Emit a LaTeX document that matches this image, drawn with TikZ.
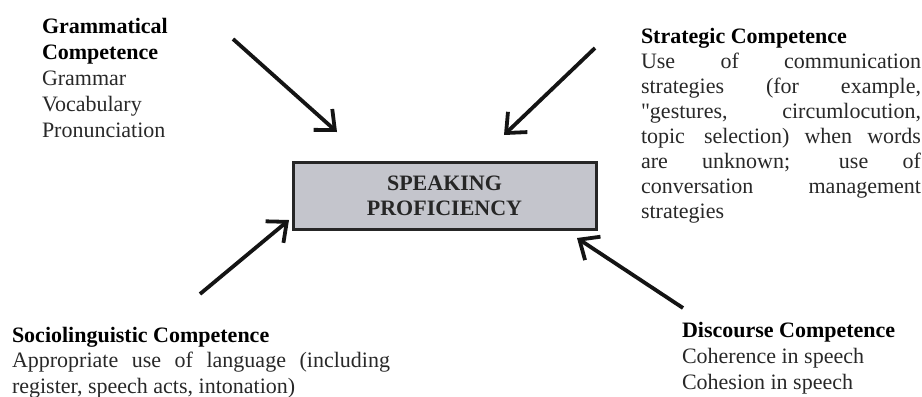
\documentclass[tikz,border=0pt]{standalone}
\usepackage{fontspec}
\setmainfont{Liberation Serif}
\newfontfamily\plainq{Liberation Serif}
\usetikzlibrary{arrows.meta}
\definecolor{boxfill}{RGB}{196,197,204}
\definecolor{txt}{RGB}{40,40,40}
\newcommand{\jline}[2]{\makebox[#1][s]{#2}}
\begin{document}
\begin{tikzpicture}[x=1bp,y=-1bp,
  txtblock/.style={anchor=base west, inner sep=0pt, outer sep=0pt, align=left,
    font=\fontsize{22bp}{25.5bp}\selectfont, text=txt},
  arr/.style={line width=3.8bp, draw=black!92,
    -{Straight Barb[length=16bp,width=28bp,line width=3.8bp]}},
  spbox/.style={draw=black!85, line width=3bp, fill=boxfill, minimum width=303bp,
    minimum height=67bp, inner sep=0pt, align=center,
    font=\fontsize{22bp}{26bp}\selectfont\bfseries, text=black!85}]
\useasboundingbox (0,0) rectangle (922,396);

% central box
\node[spbox] (sp) at (444.5,195.5) {\raisebox{-1bp}{SPEAKING}\\PROFICIENCY};

% text blocks (anchored at the baseline of their last line)
\node[txtblock, font=\fontsize{22bp}{25.8bp}\selectfont] (gram) at (42,137)
  {\textbf{\color{black}Grammatical}\\\textbf{\color{black}Competence}\\Grammar\\Vocabulary\\Pronunciation};

\node[txtblock, font=\fontsize{22bp}{25bp}\selectfont] (strat) at (641,218)
  {\textbf{\color{black}Strategic Competence}\\
   \jline{280bp}{Use of communication}\\
   \jline{280bp}{strategies (for example,}\\
   \jline{280bp}{{\plainq"}gestures, circumlocution,}\\
   \jline{280bp}{topic\hspace{4bp} selection) when words}\\
   \jline{280bp}{are unknown; use of}\\
   \jline{280bp}{conversation management}\\
   strategies};

\node[txtblock] (socio) at (12,393)
  {\textbf{\color{black}Sociolinguistic Competence}\\
   \jline{378bp}{Appropriate use of language (including}\\
   register, speech acts, intonation)};

\node[txtblock, font=\fontsize{22bp}{26bp}\selectfont] (disc) at (682,389)
  {\textbf{\color{black}Discourse Competence}\\Coherence in speech\\Cohesion in speech};

% arrow ends
\coordinate (a1s) at (233,39);  \coordinate (a1e) at (337,132);
\coordinate (a2s) at (595,48);  \coordinate (a2e) at (504,135);
\coordinate (a3s) at (200,294); \coordinate (a3e) at (289,220);
\coordinate (a4s) at (683,308); \coordinate (a4e) at (577,238);

\draw[arr] (a1s) -- (a1e);
\draw[arr] (a2s) -- (a2e);
\draw[arr] (a3s) -- (a3e);
\draw[arr] (a4s) -- (a4e);
\end{tikzpicture}
\end{document}
